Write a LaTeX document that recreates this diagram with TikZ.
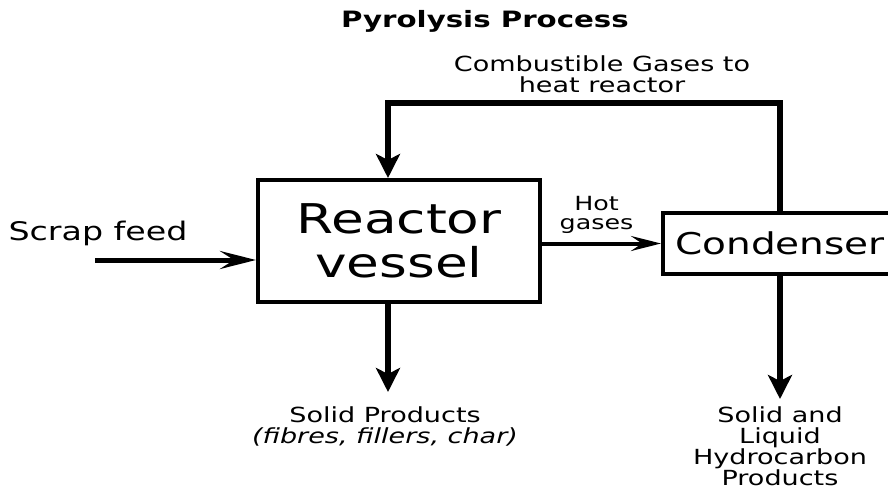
\documentclass[tikz,border=0pt]{standalone}
\usepackage{fontspec}
\setmainfont{DejaVu Sans}[FakeStretch=1.3]
\usetikzlibrary{arrows.meta, positioning}

\begin{document}
\begin{tikzpicture}[
    box/.style={
        rectangle,
        draw=black,
        line width=4pt,
        text centered,
        align=center,
        inner sep=0pt
    },
    lbl/.style={align=center, inner sep=3pt, font=\fontsize{20.8}{21.3}\selectfont},
    heavyarrow/.style={-{Stealth[length=24pt, width=24pt, inset=6pt]}, line width=6pt},
    feedarrow/.style={-{Stealth[length=36pt, width=18pt, inset=14pt]}, line width=5pt},
    gasarrow/.style={-{Stealth[length=30pt, width=15pt, inset=11pt]}, line width=4pt}
]
\useasboundingbox (0,0) rectangle (888pt,-490pt);

% Title
\node (title) at (485pt,-21pt) [font=\bfseries\fontsize{22.5}{24}\selectfont] {Pyrolysis Process};

% Units
\node (reactor) [box, minimum width=282pt, minimum height=122pt,
    font=\fontsize{41}{44}\selectfont] at (399pt,-241pt) {Reactor\\vessel};

\node (condenser) [box, minimum width=234pt, minimum height=61pt,
    font=\fontsize{30}{32}\selectfont] at (780pt,-243.5pt) {Condenser};

% Feed
\coordinate (feed) at (95pt,-260pt);
\node (scraplabel) at (98pt,-233.5pt) [font=\fontsize{25.6}{27}\selectfont] {Scrap feed};

% Gas return
\coordinate (bend) at (388pt,-103pt);
\coordinate (reactortop) at ([xshift=-11pt]reactor.north);
\node (gaslabel) [lbl, inner sep=0pt, font=\fontsize{20.8}{21}\selectfont] at (602pt,-74.6pt)
    {Combustible Gases to\\heat reactor};

% Products
\coordinate (solidend) at ([xshift=-11pt, yshift=-88pt]reactor.south);
\node (solid) [lbl, below=11pt of solidend, font=\fontsize{20.8}{21.5}\selectfont, xshift=-3pt]
    {Solid Products\\\textit{(fibres, fillers, char)}};

\coordinate (hydroend) at ([yshift=-123pt]condenser.south);
\node (hydro) [lbl, below=5pt of hydroend, inner sep=2pt]
    {Solid and\\Liquid\\Hydrocarbon\\Products};

% Arrows
\draw [feedarrow] (feed) -- (feed -| reactor.west);
\draw [gasarrow] (reactor.east |- condenser.west) -- (condenser.west)
    node (hotlabel) [midway, above=5pt, xshift=-5pt, align=center,
    font=\fontsize{19.5}{19}\selectfont] {Hot\\gases};
\draw [heavyarrow] (condenser.north) |- (bend) -- (reactortop);
\draw [heavyarrow] ([xshift=-11pt]reactor.south) -- (solidend);
\draw [heavyarrow] (condenser.south) -- (hydroend);

\end{tikzpicture}
\end{document}
